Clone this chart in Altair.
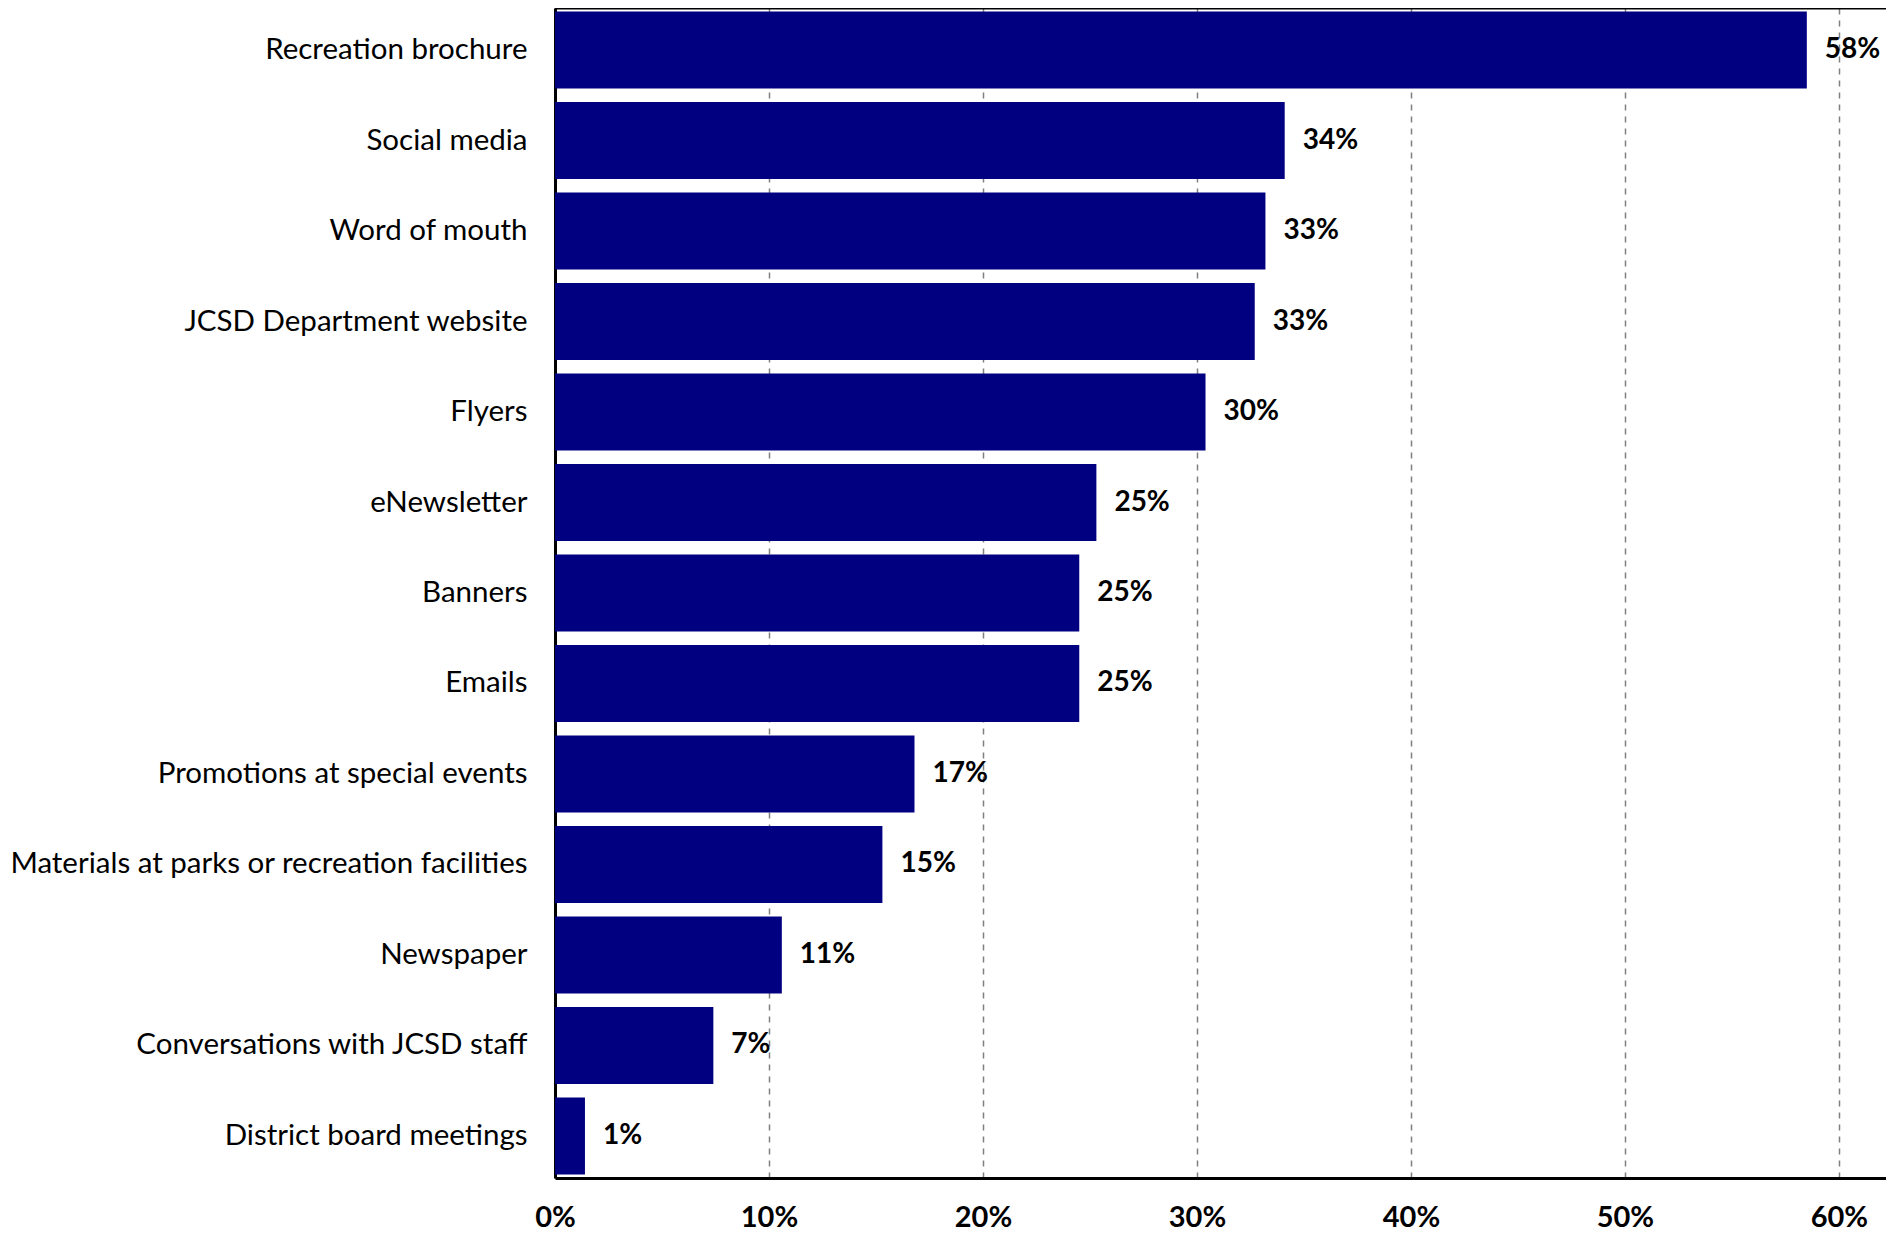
import altair as alt
import pandas as pd

categories = [
    "Recreation brochure",
    "Social media",
    "Word of mouth",
    "JCSD Department website",
    "Flyers",
    "eNewsletter",
    "Banners",
    "Emails",
    "Promotions at special events",
    "Materials at parks or recreation facilities",
    "Newspaper",
    "Conversations with JCSD staff",
    "District board meetings",
]
values = [58.5, 34.1, 33.2, 32.7, 30.4, 25.3, 24.5, 24.5, 16.8, 15.3, 10.6, 7.4, 1.4]
labels = ["58%", "34%", "33%", "33%", "30%", "25%", "25%", "25%", "17%", "15%", "11%", "7%", "1%"]
tick_values = [0, 10, 20, 30, 40, 50, 60]

df = pd.DataFrame({"category": categories, "value": values, "label": labels})

W, H = 1331, 1170
FONT = "Lato"
FS = 29

x = alt.X(
    "value:Q",
    scale=alt.Scale(domain=[0, 62.2], nice=False, zero=True),
    axis=alt.Axis(
        values=tick_values,
        labelExpr="datum.value + '%'",
        title=None,
        ticks=False,
        grid=True,
        gridDash=[6, 6],
        gridColor="#808080",
        gridWidth=1.5,
        domainColor="black",
        domainWidth=3,
        labelFont=FONT,
        labelFontSize=FS,
        labelFontWeight="bold",
        labelColor="black",
        labelPadding=25,
        labelFlush=False,
    ),
)
y = alt.Y(
    "category:N",
    sort=categories,
    scale=alt.Scale(paddingInner=0.15, paddingOuter=0.04),
    axis=alt.Axis(
        title=None,
        ticks=False,
        domainColor="black",
        domainWidth=3,
        labelFont=FONT,
        labelFontSize=29.5,
        labelColor="black",
        labelPadding=28,
        labelLimit=600,
    ),
)

base = alt.Chart(df)
bars = base.mark_bar(color="#000080").encode(x=x, y=y)
text = base.mark_text(
    align="left", baseline="middle", dx=18, font=FONT, fontSize=28, fontWeight="bold", color="black"
).encode(x=alt.X("value:Q"), y=alt.Y("category:N", sort=categories), text="label:N")
top = alt.Chart(pd.DataFrame({"a": [0]})).mark_rule(color="black", strokeWidth=3).encode(
    x=alt.value(0), x2=alt.value(W), y=alt.value(0)
)

chart = (
    alt.layer(bars, text, top)
    .properties(
        width=W,
        height=H,
        autosize=alt.AutoSizeParams(type="none"),
        padding={"left": 547, "top": 0, "right": 0, "bottom": 56},
    )
    .configure_view(stroke=None)
    .configure(background="white")
)

chart.save("out.html", embed_options={"renderer": "svg", "actions": False})
